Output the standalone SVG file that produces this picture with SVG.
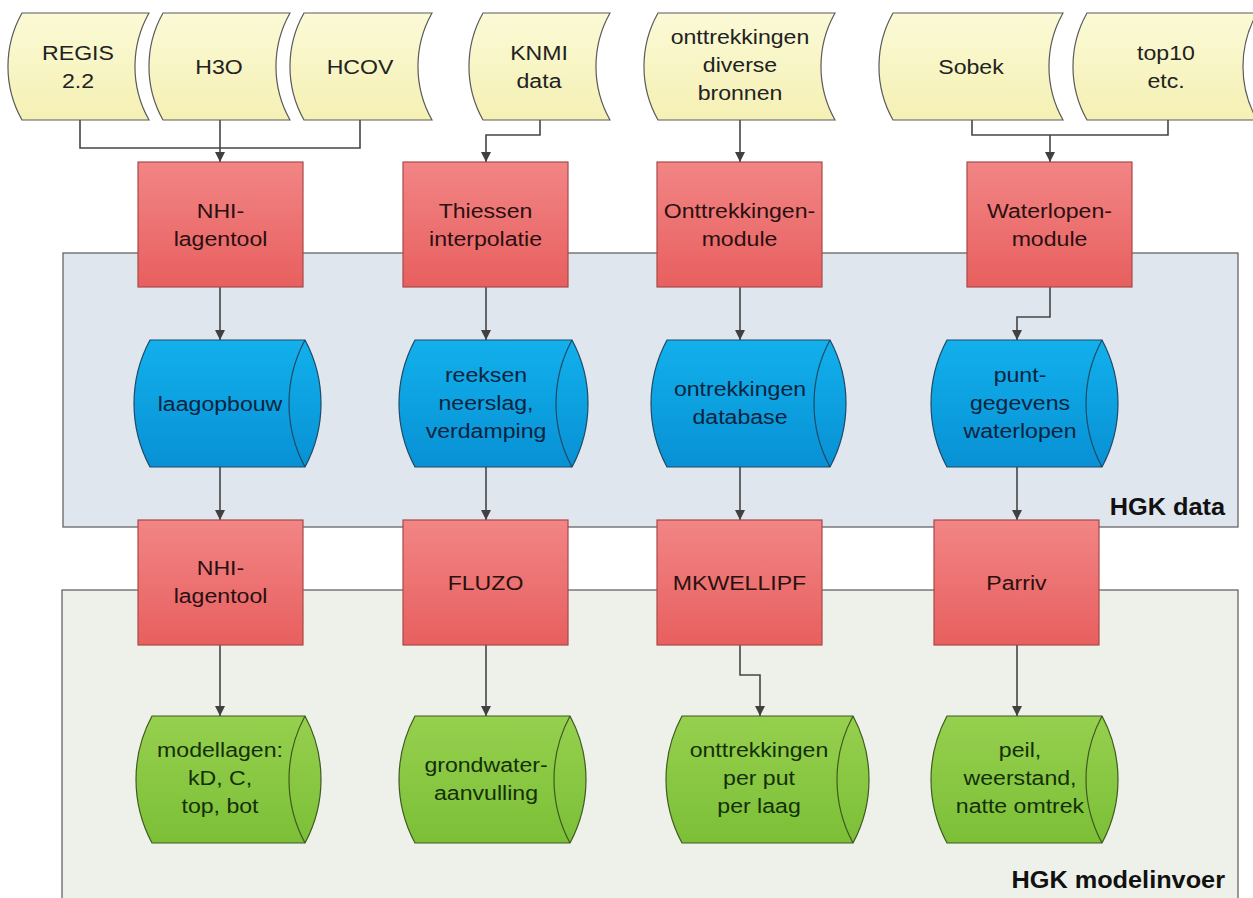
<svg xmlns="http://www.w3.org/2000/svg" width="1253" height="898" viewBox="0 0 1253 898">
<defs>
<linearGradient id="gRed" x1="0" y1="0" x2="0" y2="1"><stop offset="0" stop-color="#f28585"/><stop offset="1" stop-color="#e85f5f"/></linearGradient>
<linearGradient id="gBlue" x1="0" y1="0" x2="0" y2="1"><stop offset="0" stop-color="#12b0ec"/><stop offset="1" stop-color="#0891d4"/></linearGradient>
<linearGradient id="gGreen" x1="0" y1="0" x2="0" y2="1"><stop offset="0" stop-color="#96d04e"/><stop offset="1" stop-color="#7cbf37"/></linearGradient>
<linearGradient id="gYel" x1="0" y1="0" x2="0" y2="1"><stop offset="0" stop-color="#fbfad6"/><stop offset="1" stop-color="#f5f0b4"/></linearGradient>
<marker id="arr" viewBox="0 0 10 10" refX="10" refY="5" markerWidth="10" markerHeight="10" markerUnits="userSpaceOnUse" orient="auto"><path d="M0,0 L10,5 L0,10 z" fill="#404040"/></marker>
</defs>
<style>
.t{font-family:"Liberation Sans",Arial,sans-serif;font-size:21px;text-anchor:middle;}
.lbl{font-family:"Liberation Sans",Arial,sans-serif;font-size:23px;font-weight:bold;text-anchor:end;fill:#111;}
.tape{fill:url(#gYel);stroke:#5a5a5a;stroke-width:1.2;}
.box{fill:url(#gRed);stroke:#a84a48;stroke-width:1.2;}
.bcyl{fill:url(#gBlue);stroke:#1d4a66;stroke-width:1.2;}
.gcyl{fill:url(#gGreen);stroke:#3e5a20;stroke-width:1.2;}
.inner{fill:none;}
.tt{fill:#222;}
.rt{fill:#2b1010;}
.bt{fill:#0b2440;}
.gt{fill:#14300a;}
.c{fill:none;stroke:#454545;stroke-width:1.6;}
.ca{fill:none;stroke:#454545;stroke-width:1.6;marker-end:url(#arr);}
.panel1{fill:#dfe6ee;stroke:#666;stroke-width:1.3;}
.panel2{fill:#eef1ea;stroke:#666;stroke-width:1.3;}
</style>
<rect width="1253" height="898" fill="#ffffff"/>

<g id="panel-hgk-data">
<rect class="panel1" x="63" y="253" width="1175" height="274"/>
<text class="lbl" transform="translate(1225,515) scale(1.1,1)">HGK data</text>
</g>
<g id="panel-hgk-modelinvoer">
<rect class="panel2" x="62" y="590" width="1176" height="330"/>
<text class="lbl" transform="translate(1225,888) scale(1.1,1)">HGK modelinvoer</text>
</g>

<g id="connectors">
<path class="c" d="M80,120 V148 H360 V120"/>
<path class="ca" d="M220,120 V162"/>
<path class="ca" d="M540,120 V135 H486 V162"/>
<path class="ca" d="M740,120 V162"/>
<path class="c" d="M972,120 V135 H1168 V120"/>
<path class="ca" d="M1050,135 V162"/>
<path class="ca" d="M220,287 V340"/>
<path class="ca" d="M486,287 V340"/>
<path class="ca" d="M740,287 V340"/>
<path class="ca" d="M1050,287 V317 H1017 V340"/>
<path class="ca" d="M220,467 V520"/>
<path class="ca" d="M486,467 V520"/>
<path class="ca" d="M740,467 V520"/>
<path class="ca" d="M1017,467 V520"/>
<path class="ca" d="M220,645 V716"/>
<path class="ca" d="M486,645 V716"/>
<path class="ca" d="M740,645 V675 H760 V716"/>
<path class="ca" d="M1017,645 V716"/>
</g>

<g id="src-regis">
<path class="tape" d="M22,13 H149 A109,109 0 0 0 149,120 H22 A109,109 0 0 1 22,13 Z"/>
<text class="t tt" transform="translate(78,60) scale(1.1,1)"><tspan x="0">REGIS</tspan><tspan x="0" dy="28">2.2</tspan></text>
</g>
<g id="src-h3o">
<path class="tape" d="M163,13 H290 A109,109 0 0 0 290,120 H163 A109,109 0 0 1 163,13 Z"/>
<text class="t tt" transform="translate(219,74) scale(1.1,1)">H3O</text>
</g>
<g id="src-hcov">
<path class="tape" d="M304,13 H432 A109,109 0 0 0 432,120 H304 A109,109 0 0 1 304,13 Z"/>
<text class="t tt" transform="translate(360,74) scale(1.1,1)">HCOV</text>
</g>
<g id="src-knmi">
<path class="tape" d="M483,13 H610 A109,109 0 0 0 610,120 H483 A109,109 0 0 1 483,13 Z"/>
<text class="t tt" transform="translate(539,60) scale(1.1,1)"><tspan x="0">KNMI</tspan><tspan x="0" dy="28">data</tspan></text>
</g>
<g id="src-onttrekkingen">
<path class="tape" d="M658,13 H835 A109,109 0 0 0 835,120 H658 A109,109 0 0 1 658,13 Z"/>
<text class="t tt" transform="translate(740,44) scale(1.1,1)"><tspan x="0">onttrekkingen</tspan><tspan x="0" dy="28">diverse</tspan><tspan x="0" dy="28">bronnen</tspan></text>
</g>
<g id="src-sobek">
<path class="tape" d="M893,13 H1063 A109,109 0 0 0 1063,120 H893 A109,109 0 0 1 893,13 Z"/>
<text class="t tt" transform="translate(971,74) scale(1.1,1)">Sobek</text>
</g>
<g id="src-top10">
<path class="tape" d="M1087,13 H1257 A109,109 0 0 0 1257,120 H1087 A109,109 0 0 1 1087,13 Z"/>
<text class="t tt" transform="translate(1166,60) scale(1.1,1)"><tspan x="0">top10</tspan><tspan x="0" dy="28">etc.</tspan></text>
</g>

<g id="proc-nhi-lagentool-1">
<rect class="box" x="138" y="162" width="165" height="125"/>
<text class="t rt" transform="translate(220.5,218) scale(1.1,1)"><tspan x="0">NHI-</tspan><tspan x="0" dy="28">lagentool</tspan></text>
</g>
<g id="proc-thiessen">
<rect class="box" x="403" y="162" width="165" height="125"/>
<text class="t rt" transform="translate(485.5,218) scale(1.1,1)"><tspan x="0">Thiessen</tspan><tspan x="0" dy="28">interpolatie</tspan></text>
</g>
<g id="proc-onttrekkingenmodule">
<rect class="box" x="657" y="162" width="165" height="125"/>
<text class="t rt" transform="translate(739.5,218) scale(1.1,1)"><tspan x="0">Onttrekkingen-</tspan><tspan x="0" dy="28">module</tspan></text>
</g>
<g id="proc-waterlopenmodule">
<rect class="box" x="967" y="162" width="165" height="125"/>
<text class="t rt" transform="translate(1049.5,218) scale(1.1,1)"><tspan x="0">Waterlopen-</tspan><tspan x="0" dy="28">module</tspan></text>
</g>

<g id="db-laagopbouw">
<path class="bcyl" d="M150,340 H305 A134,134 0 0 1 305,467 H150 A134,134 0 0 1 150,340 Z"/>
<path class="bcyl inner" d="M305,340 A134,134 0 0 0 305,467"/>
<text class="t bt" transform="translate(220,411) scale(1.1,1)">laagopbouw</text>
</g>
<g id="db-reeksen">
<path class="bcyl" d="M415,340 H572 A134,134 0 0 1 572,467 H415 A134,134 0 0 1 415,340 Z"/>
<path class="bcyl inner" d="M572,340 A134,134 0 0 0 572,467"/>
<text class="t bt" transform="translate(486,382) scale(1.1,1)"><tspan x="0">reeksen</tspan><tspan x="0" dy="28">neerslag,</tspan><tspan x="0" dy="28">verdamping</tspan></text>
</g>
<g id="db-ontrekkingen">
<path class="bcyl" d="M667,340 H830 A134,134 0 0 1 830,467 H667 A134,134 0 0 1 667,340 Z"/>
<path class="bcyl inner" d="M830,340 A134,134 0 0 0 830,467"/>
<text class="t bt" transform="translate(740,396) scale(1.1,1)"><tspan x="0">ontrekkingen</tspan><tspan x="0" dy="28">database</tspan></text>
</g>
<g id="db-puntgegevens">
<path class="bcyl" d="M947,340 H1102 A134,134 0 0 1 1102,467 H947 A134,134 0 0 1 947,340 Z"/>
<path class="bcyl inner" d="M1102,340 A134,134 0 0 0 1102,467"/>
<text class="t bt" transform="translate(1020,382) scale(1.1,1)"><tspan x="0">punt-</tspan><tspan x="0" dy="28">gegevens</tspan><tspan x="0" dy="28">waterlopen</tspan></text>
</g>

<g id="proc-nhi-lagentool-2">
<rect class="box" x="138" y="520" width="165" height="125"/>
<text class="t rt" transform="translate(220.5,575) scale(1.1,1)"><tspan x="0">NHI-</tspan><tspan x="0" dy="28">lagentool</tspan></text>
</g>
<g id="proc-fluzo">
<rect class="box" x="403" y="520" width="165" height="125"/>
<text class="t rt" transform="translate(485.5,590) scale(1.1,1)">FLUZO</text>
</g>
<g id="proc-mkwellipf">
<rect class="box" x="657" y="520" width="165" height="125"/>
<text class="t rt" transform="translate(739.5,590) scale(1.1,1)">MKWELLIPF</text>
</g>
<g id="proc-parriv">
<rect class="box" x="934" y="520" width="165" height="125"/>
<text class="t rt" transform="translate(1016.5,590) scale(1.1,1)">Parriv</text>
</g>

<g id="out-modellagen">
<path class="gcyl" d="M152,716 H305 A134,134 0 0 1 305,843 H152 A134,134 0 0 1 152,716 Z"/>
<path class="gcyl inner" d="M305,716 A134,134 0 0 0 305,843"/>
<text class="t gt" transform="translate(220,757) scale(1.1,1)"><tspan x="0">modellagen:</tspan><tspan x="0" dy="28">kD, C,</tspan><tspan x="0" dy="28">top, bot</tspan></text>
</g>
<g id="out-grondwateraanvulling">
<path class="gcyl" d="M415,716 H570 A134,134 0 0 1 570,843 H415 A134,134 0 0 1 415,716 Z"/>
<path class="gcyl inner" d="M570,716 A134,134 0 0 0 570,843"/>
<text class="t gt" transform="translate(486,772) scale(1.1,1)"><tspan x="0">grondwater-</tspan><tspan x="0" dy="28">aanvulling</tspan></text>
</g>
<g id="out-onttrekkingen">
<path class="gcyl" d="M682,716 H853 A134,134 0 0 1 853,843 H682 A134,134 0 0 1 682,716 Z"/>
<path class="gcyl inner" d="M853,716 A134,134 0 0 0 853,843"/>
<text class="t gt" transform="translate(759,757) scale(1.1,1)"><tspan x="0">onttrekkingen</tspan><tspan x="0" dy="28">per put</tspan><tspan x="0" dy="28">per laag</tspan></text>
</g>
<g id="out-peil">
<path class="gcyl" d="M947,716 H1102 A134,134 0 0 1 1102,843 H947 A134,134 0 0 1 947,716 Z"/>
<path class="gcyl inner" d="M1102,716 A134,134 0 0 0 1102,843"/>
<text class="t gt" transform="translate(1020,757) scale(1.1,1)"><tspan x="0">peil,</tspan><tspan x="0" dy="28">weerstand,</tspan><tspan x="0" dy="28">natte omtrek</tspan></text>
</g>
</svg>
